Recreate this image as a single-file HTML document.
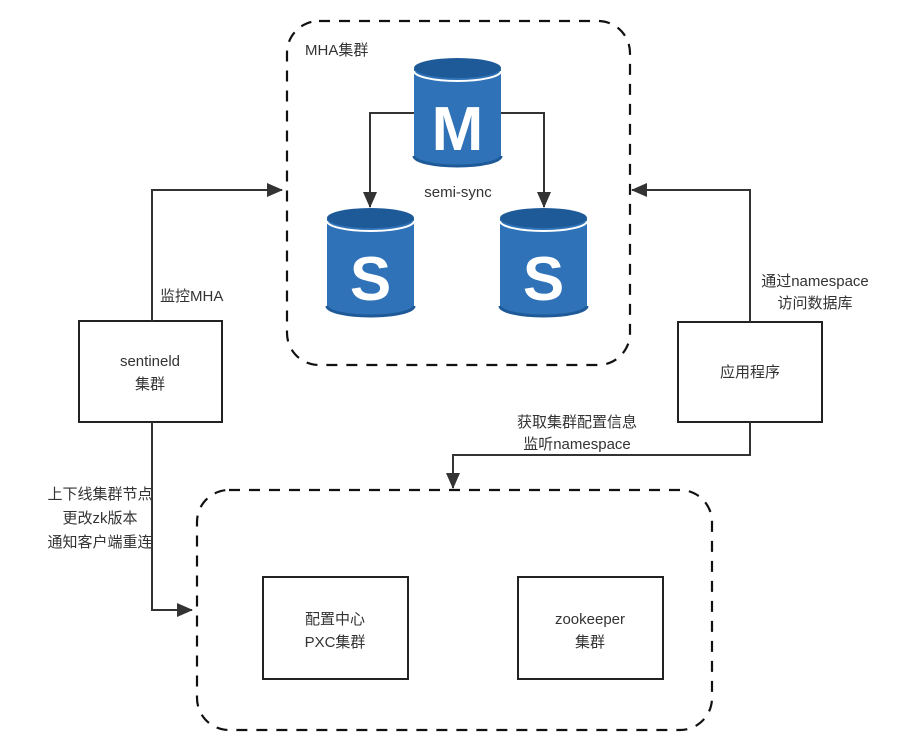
<!DOCTYPE html>
<html><head><meta charset="utf-8"><style>
html,body{margin:0;padding:0;background:#fff;}
text{font-family:"Liberation Sans","Noto Sans CJK SC",sans-serif;fill:#333;font-size:15px;}
</style></head><body>
<svg width="903" height="746" viewBox="0 0 903 746" xmlns="http://www.w3.org/2000/svg">
<defs>
<marker id="ab" markerWidth="16" markerHeight="14" refX="15" refY="7" orient="auto" markerUnits="userSpaceOnUse">
<path d="M0,0 L16,7 L0,14 z" fill="#333"/></marker>
</defs>
<rect width="903" height="746" fill="#fff"/>
<rect x="287" y="21" width="343" height="344" rx="32" fill="none" stroke="#111" stroke-width="2.2" stroke-dasharray="11,9"/>
<text x="305" y="55">MHA集群</text>
<g>
<path d="M414,68 v88 a43.5,10 0 0 0 87,0 v-88 z" fill="#2f72b8"/>
<ellipse cx="457.5" cy="68" rx="43.5" ry="10" fill="#1f5a98"/>
<path d="M414,71 a43.5,10 0 0 0 87,0" fill="none" stroke="#fff" stroke-width="2"/>
<path d="M414,156 a43.5,10 0 0 0 87,0" fill="none" stroke="#1f5a98" stroke-width="3"/>
<text x="457.5" y="150" text-anchor="middle" style="font-size:62px;font-weight:bold;fill:#fff">M</text>
</g>
<g>
<path d="M327,218 v88 a43.5,10 0 0 0 87,0 v-88 z" fill="#2f72b8"/>
<ellipse cx="370.5" cy="218" rx="43.5" ry="10" fill="#1f5a98"/>
<path d="M327,221 a43.5,10 0 0 0 87,0" fill="none" stroke="#fff" stroke-width="2"/>
<path d="M327,306 a43.5,10 0 0 0 87,0" fill="none" stroke="#1f5a98" stroke-width="3"/>
<text x="370.5" y="300" text-anchor="middle" style="font-size:62px;font-weight:bold;fill:#fff">S</text>
</g>
<g>
<path d="M500,218 v88 a43.5,10 0 0 0 87,0 v-88 z" fill="#2f72b8"/>
<ellipse cx="543.5" cy="218" rx="43.5" ry="10" fill="#1f5a98"/>
<path d="M500,221 a43.5,10 0 0 0 87,0" fill="none" stroke="#fff" stroke-width="2"/>
<path d="M500,306 a43.5,10 0 0 0 87,0" fill="none" stroke="#1f5a98" stroke-width="3"/>
<text x="543.5" y="300" text-anchor="middle" style="font-size:62px;font-weight:bold;fill:#fff">S</text>
</g>
<path d="M414,113 H370 V207" fill="none" stroke="#333" stroke-width="2" marker-end="url(#ab)"/>
<path d="M501,113 H544 V207" fill="none" stroke="#333" stroke-width="2" marker-end="url(#ab)"/>
<text x="458" y="197" text-anchor="middle">semi-sync</text>
<rect x="79" y="321" width="143" height="101" fill="#fff" stroke="#222" stroke-width="2"/>
<text x="150" y="366" text-anchor="middle">sentineld</text>
<text x="150" y="389" text-anchor="middle">集群</text>
<path d="M152,321 V190 H282" fill="none" stroke="#333" stroke-width="2" marker-end="url(#ab)"/>
<text x="160" y="301">监控MHA</text>
<path d="M152,422 V610 H192" fill="none" stroke="#333" stroke-width="2" marker-end="url(#ab)"/>
<text x="100" y="499" text-anchor="middle">上下线集群节点</text>
<text x="100" y="523" text-anchor="middle">更改zk版本</text>
<text x="100" y="547" text-anchor="middle">通知客户端重连</text>
<rect x="678" y="322" width="144" height="100" fill="#fff" stroke="#222" stroke-width="2"/>
<text x="750" y="377" text-anchor="middle">应用程序</text>
<path d="M750,322 V190 H632" fill="none" stroke="#333" stroke-width="2" marker-end="url(#ab)"/>
<text x="815" y="286" text-anchor="middle">通过namespace</text>
<text x="815" y="308" text-anchor="middle">访问数据库</text>
<path d="M750,422 V455 H453 V488" fill="none" stroke="#333" stroke-width="2" marker-end="url(#ab)"/>
<text x="577" y="427" text-anchor="middle">获取集群配置信息</text>
<text x="577" y="449" text-anchor="middle">监听namespace</text>
<rect x="197" y="490" width="515" height="240" rx="32" fill="none" stroke="#111" stroke-width="2.2" stroke-dasharray="11,9"/>
<rect x="263" y="577" width="145" height="102" fill="#fff" stroke="#222" stroke-width="2"/>
<text x="335" y="624" text-anchor="middle">配置中心</text>
<text x="335" y="647" text-anchor="middle">PXC集群</text>
<rect x="518" y="577" width="145" height="102" fill="#fff" stroke="#222" stroke-width="2"/>
<text x="590" y="624" text-anchor="middle">zookeeper</text>
<text x="590" y="647" text-anchor="middle">集群</text>
</svg>
</body></html>
